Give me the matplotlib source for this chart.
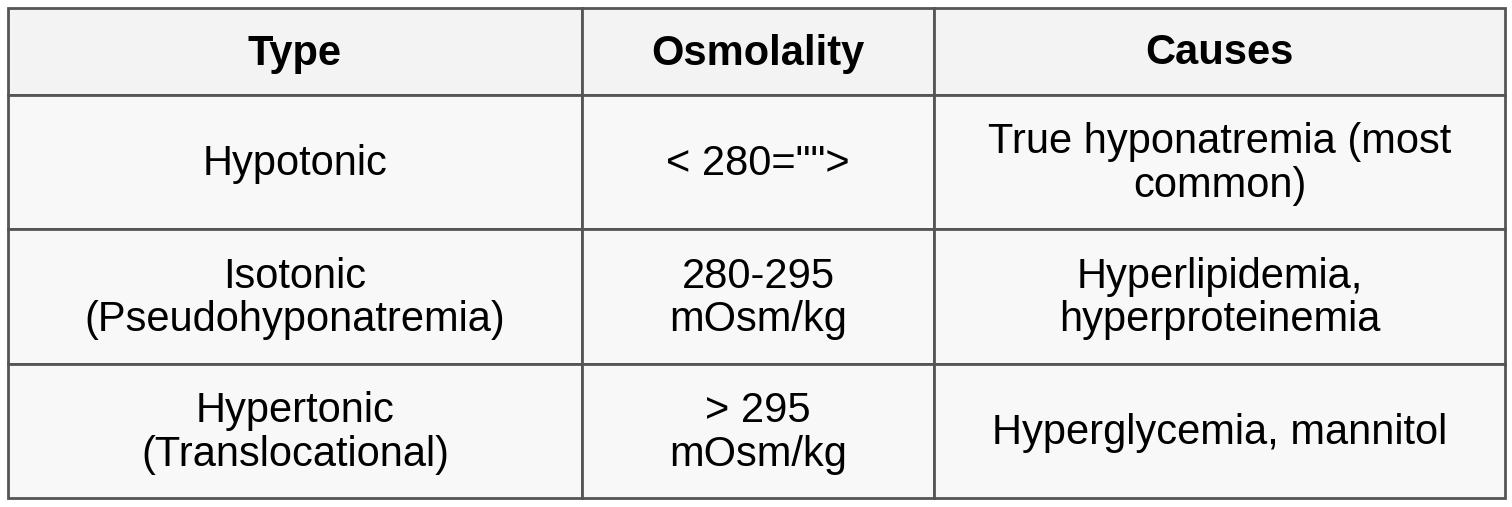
import matplotlib
matplotlib.use("Agg")
import matplotlib.pyplot as plt
from matplotlib.patches import Rectangle

headers = ["Type", "Osmolality", "Causes"]
types = ["Hypotonic", "Isotonic\n(Pseudohyponatremia)", "Hypertonic\n(Translocational)"]
osmolality = ['< 280="">', "280-295\nmOsm/kg", "> 295\nmOsm/kg"]
causes = ["True hyponatremia (most\ncommon)", "Hyperlipidemia,\nhyperproteinemia", "Hyperglycemia, mannitol"]

W, H = 1512, 507
fig = plt.figure(figsize=(W/100, H/100), dpi=100)
ax = fig.add_axes([0, 0, 1, 1])
ax.set_xlim(0, W); ax.set_ylim(H, 0); ax.axis("off")

xs = [8, 582, 934, 1505]
ys = [8, 95, 229, 364, 498]
rows = [headers] + [list(r) for r in zip(types, osmolality, causes)]
for ri, row in enumerate(rows):
    bg = "#f3f3f3" if ri == 0 else "#f8f8f8"
    for ci, txt in enumerate(row):
        ax.add_patch(Rectangle((xs[ci], ys[ri]), xs[ci+1]-xs[ci], ys[ri+1]-ys[ri],
                               facecolor=bg, edgecolor="#555555", linewidth=2))
        ax.text((xs[ci]+xs[ci+1])/2, (ys[ri]+ys[ri+1])/2 + 2, txt, ha="center", va="center",
                fontsize=30, family="Liberation Sans", linespacing=1.12,
                fontweight="bold" if ri == 0 else "normal", color="black")
fig.savefig("out.png", dpi=100)
